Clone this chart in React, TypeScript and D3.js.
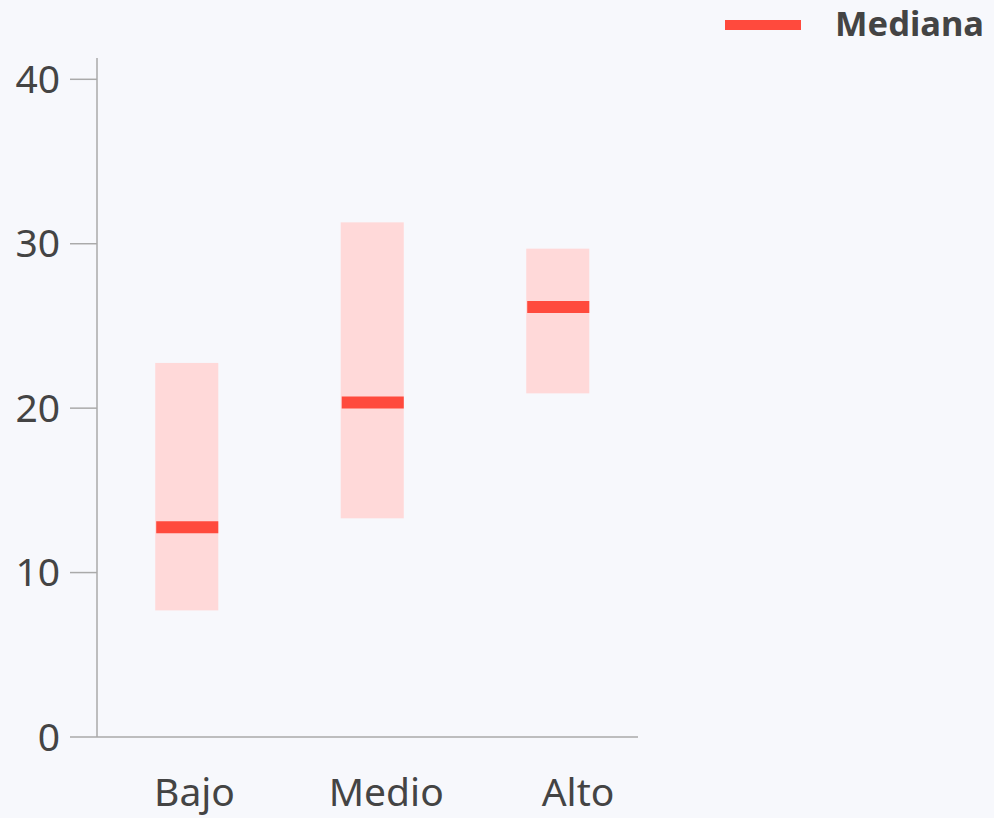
import React, { useEffect, useRef } from "react";
import * as d3 from "d3";

const categories = ["Bajo", "Medio", "Alto"];
const lowValues = [7.7, 13.3, 20.9];
const highValues = [22.75, 31.3, 29.7];
const medianValues = [12.75, 20.35, 26.15];
const yTicks = [0, 10, 20, 30, 40];
const legendLabel = "Mediana";

const width = 994;
const height = 818;
const margin = { left: 97, right: 356, top: 58, bottom: 81 };

export default function App() {
  const svgRef = useRef<SVGSVGElement>(null);

  useEffect(() => {
    if (!svgRef.current) return;
    const svg = d3.select(svgRef.current);
    svg.selectAll("*").remove();

    const font = "'Segoe UI', 'Noto Sans', sans-serif";
    const textColor = "#444444";
    const axisColor = "#aaaaaa";

    svg.append("rect")
      .attr("width", width)
      .attr("height", height)
      .attr("fill", "#f7f8fc");

    const y = d3.scaleLinear()
      .domain([0, 40])
      .range([737, 79.3]);

    const x = d3.scaleBand<string>()
      .domain(categories)
      .range([94, 650.5])
      .paddingInner(0.66)
      .paddingOuter(0.33);

    // category labels sit slightly wider apart than the bars
    const xLabel = d3.scaleBand<string>()
      .domain(categories)
      .range([98.6, 673.9]);

    // y axis
    svg.append("line")
      .attr("x1", margin.left).attr("x2", margin.left)
      .attr("y1", margin.top).attr("y2", y(0))
      .attr("stroke", axisColor).attr("stroke-width", 1.5);

    const yAxis = svg.append("g");
    yAxis.selectAll("line.tick")
      .data(yTicks)
      .enter()
      .append("line")
      .attr("x1", 70).attr("x2", margin.left)
      .attr("y1", d => y(d)).attr("y2", d => y(d))
      .attr("stroke", axisColor).attr("stroke-width", 1.5);

    yAxis.selectAll("text")
      .data(yTicks)
      .enter()
      .append("text")
      .attr("x", 60)
      .attr("y", d => y(d))
      .attr("dy", "0.35em")
      .attr("text-anchor", "end")
      .attr("font-family", font)
      .attr("font-size", 39)
      .attr("fill", textColor)
      .text(d => d);

    // x axis
    svg.append("line")
      .attr("x1", margin.left).attr("x2", 638)
      .attr("y1", y(0)).attr("y2", y(0))
      .attr("stroke", axisColor).attr("stroke-width", 1.5);

    svg.append("g")
      .selectAll("text")
      .data(categories)
      .enter()
      .append("text")
      .attr("x", d => (xLabel(d) ?? 0) + xLabel.bandwidth() / 2)
      .attr("y", 806)
      .attr("text-anchor", "middle")
      .attr("font-family", font)
      .attr("font-size", 39)
      .attr("fill", textColor)
      .text(d => d);

    // range bars
    svg.append("g")
      .selectAll("rect")
      .data(categories)
      .enter()
      .append("rect")
      .attr("x", d => x(d) ?? 0)
      .attr("width", x.bandwidth())
      .attr("y", (d, i) => y(highValues[i]))
      .attr("height", (d, i) => y(lowValues[i]) - y(highValues[i]))
      .attr("fill", "#ffd9d9");

    // medians
    svg.append("g")
      .selectAll("line")
      .data(categories)
      .enter()
      .append("line")
      .attr("x1", d => (x(d) ?? 0) + 1)
      .attr("x2", d => (x(d) ?? 0) + x.bandwidth())
      .attr("y1", (d, i) => y(medianValues[i]))
      .attr("y2", (d, i) => y(medianValues[i]))
      .attr("stroke", "#ff4a3d")
      .attr("stroke-width", 12);

    // legend
    const legend = svg.append("g");
    legend.append("line")
      .attr("x1", 725).attr("x2", 801)
      .attr("y1", 25).attr("y2", 25)
      .attr("stroke", "#ff4a3d")
      .attr("stroke-width", 10);
    legend.append("text")
      .attr("x", 835)
      .attr("y", 36)
      .attr("font-family", font)
      .attr("font-size", 34.5)
      .attr("font-weight", "bold")
      .attr("fill", textColor)
      .text(legendLabel);
  }, []);

  return (
    <svg
      ref={svgRef}
      width={width}
      height={height}
      style={{ position: "absolute", left: 0, top: 0, display: "block" }}
    />
  );
}
